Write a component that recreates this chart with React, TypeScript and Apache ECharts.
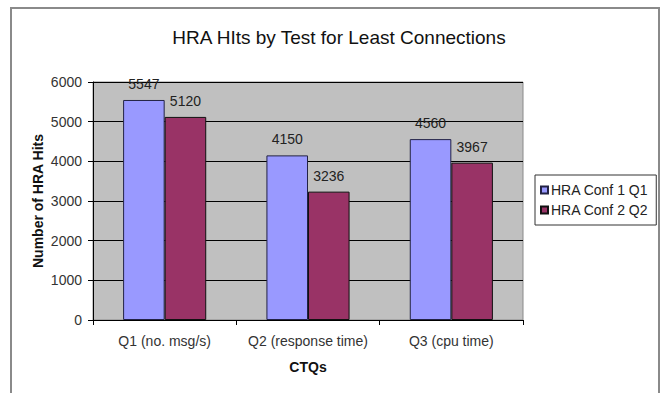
import React, { useEffect, useRef } from "react";
import * as echarts from "echarts";

const categories = ["Q1 (no. msg/s)", "Q2 (response time)", "Q3 (cpu time)"];
const conf1Values = [5547, 4150, 4560];
const conf2Values = [5120, 3236, 3967];
const seriesNames = ["HRA Conf 1 Q1", "HRA Conf 2 Q2"];
const yTicks = { min: 0, max: 6000, interval: 1000 };

const FONT = "'Liberation Sans', Arial, sans-serif";

export default function App() {
  const ref = useRef<HTMLDivElement>(null);
  useEffect(() => {
    if (!ref.current) return;
    const chart = echarts.init(ref.current, null, { renderer: "svg" });
    const labelStyle = {
      show: true,
      position: "top" as const,
      distance: 9,
      color: "#222",
      fontSize: 14,
      fontFamily: FONT,
    };
    chart.setOption({
      animation: false,
      backgroundColor: "#ffffff",
      textStyle: { fontFamily: FONT },
      title: {
        text: "HRA HIts by Test for Least Connections",
        left: 334,
        top: 23,
        textAlign: "center",
        textStyle: { fontSize: 19, fontWeight: "normal", color: "#111", fontFamily: FONT },
      },
      graphic: [
        {
          type: "rect",
          shape: { x: 11, y: 8, width: 648, height: 420 },
          style: { fill: "none", stroke: "#8a8a8a", lineWidth: 2 },
          silent: true,
        },
      ],
      legend: {
        orient: "vertical",
        left: 535,
        top: 175,
        borderColor: "#333",
        borderWidth: 1,
        padding: [8, 8, 8, 5],
        itemGap: 6,
        itemWidth: 7,
        itemHeight: 7,
        icon: "rect",
        textStyle: { fontSize: 14, color: "#222", fontFamily: FONT, padding: [0, 0, 0, -2] },
        data: seriesNames,
      },
      grid: {
        left: 93,
        right: 141,
        top: 82,
        bottom: 73,
        show: true,
        backgroundColor: "#c0c0c0",
        borderColor: "#8a8a8a",
        borderWidth: 1,
      },
      xAxis: {
        type: "category",
        data: categories,
        name: "CTQs",
        nameLocation: "middle",
        nameGap: 40,
        nameTextStyle: { fontSize: 14, fontWeight: "bold", color: "#111", fontFamily: FONT },
        axisLine: { lineStyle: { color: "#000", width: 1 } },
        axisTick: { show: true, length: 5, lineStyle: { color: "#000" } },
        axisLabel: {
          interval: 0,
          hideOverlap: false,
          margin: 14,
          fontSize: 14,
          color: "#333",
          fontFamily: FONT,
        },
      },
      yAxis: {
        type: "value",
        min: yTicks.min,
        max: yTicks.max,
        interval: yTicks.interval,
        name: "Number of HRA Hits",
        nameLocation: "middle",
        nameGap: 48,
        nameMoveOverlap: false,
        nameTextStyle: { fontSize: 14, fontWeight: "bold", color: "#111", fontFamily: FONT },
        axisLine: { show: true, lineStyle: { color: "#000", width: 1 } },
        axisTick: { show: true, length: 5, lineStyle: { color: "#000" } },
        axisLabel: {
          margin: 11,
          fontSize: 14,
          color: "#333",
          fontFamily: FONT,
          formatter: (v: number) => String(v),
        },
        splitLine: { show: true, lineStyle: { color: "#000", width: 1 } },
      },
      series: [
        {
          name: seriesNames[0],
          type: "bar",
          data: conf1Values,
          barGap: "0%",
          barCategoryGap: "42%",
          itemStyle: { color: "#9999ff", borderColor: "#222244", borderWidth: 1 },
          label: labelStyle,
        },
        {
          name: seriesNames[1],
          type: "bar",
          data: conf2Values,
          barGap: "0%",
          barCategoryGap: "42%",
          itemStyle: { color: "#993366", borderColor: "#111", borderWidth: 1 },
          label: labelStyle,
        },
      ],
    });
    return () => chart.dispose();
  }, []);
  return (
    <div
      ref={ref}
      style={{ position: "absolute", left: 0, top: 0, width: 664, height: 393 }}
    />
  );
}
